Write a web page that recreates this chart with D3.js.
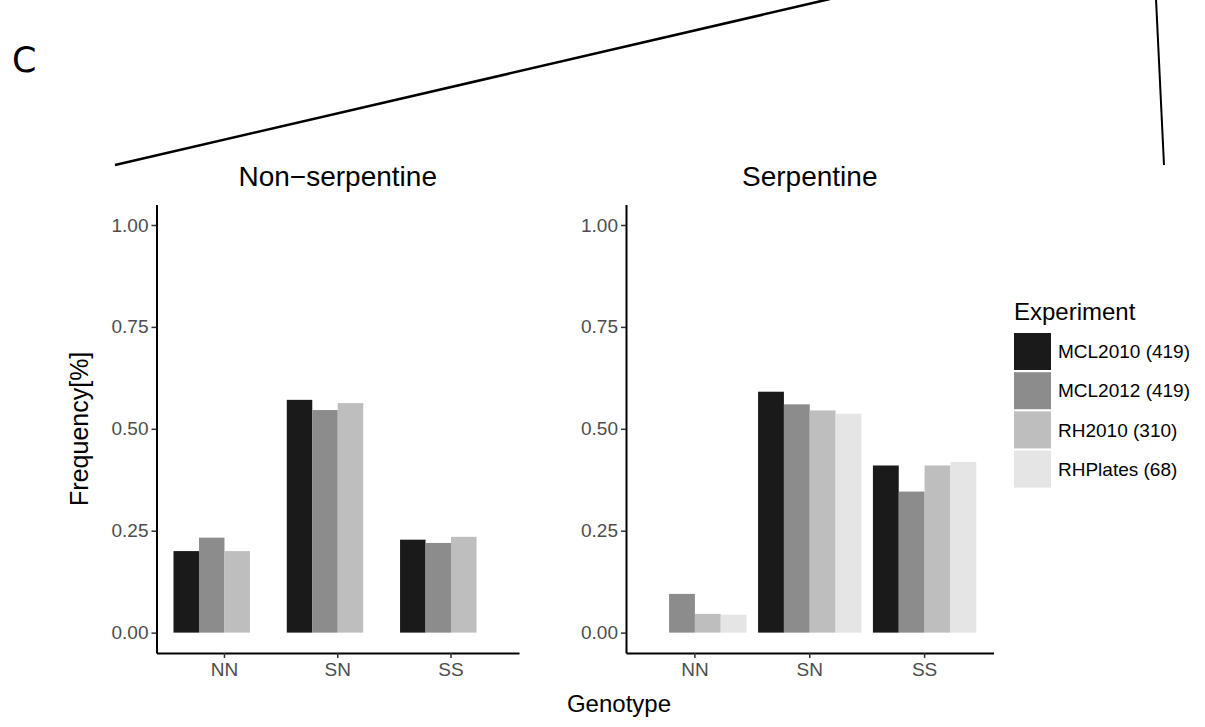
<!DOCTYPE html>
<html>
<head>
<meta charset="utf-8">
<script src="https://cdn.jsdelivr.net/npm/d3@7"></script>
<style>
  body { margin: 0; background: #fff; }
  text { font-family: "Liberation Sans", Arial, sans-serif; }
</style>
</head>
<body>
<div id="chart"></div>
<script>
// data
var genotypes = ["NN", "SN", "SS"];
var experiments = ["MCL2010 (419)", "MCL2012 (419)", "RH2010 (310)", "RHPlates (68)"];
var panels = ["Non\u2212serpentine", "Serpentine"];
var fills = ["#1a1a1a", "#8c8c8c", "#bebebe", "#e5e5e5"];
var yTicks = [0, 0.25, 0.5, 0.75, 1];

// values per experiment, one entry per genotype (null = no bar)
var nonSerpMCL2010 = [0.200, 0.571, 0.228];
var nonSerpMCL2012 = [0.233, 0.546, 0.220];
var nonSerpRH2010  = [0.200, 0.563, 0.235];
var nonSerpRHPlates = [null, null, null];

var serpMCL2010 = [null, 0.591, 0.410];
var serpMCL2012 = [0.095, 0.560, 0.346];
var serpRH2010  = [0.046, 0.545, 0.410];
var serpRHPlates = [0.044, 0.537, 0.419];

var panelData = [
    [nonSerpMCL2010, nonSerpMCL2012, nonSerpRH2010, nonSerpRHPlates],
    [serpMCL2010, serpMCL2012, serpRH2010, serpRHPlates]
];

var W = 1205, H = 727;
var panelX = [[156.5, 519], [626, 993.5]];
var yTop = 204.6, yBottom = 653;

var svg = d3.select("#chart").append("svg")
    .attr("width", W)
    .attr("height", H);

// panel label and the zoom lines at the top
svg.append("text")
    .attr("x", 12)
    .attr("y", 72)
    .style("font-family", "DejaVu Sans, sans-serif")
    .style("font-size", "35px")
    .text("C");

svg.append("line")
    .attr("x1", 115).attr("y1", 165)
    .attr("x2", 830).attr("y2", -1)
    .style("stroke", "#000")
    .style("stroke-width", 2.6);
svg.append("line")
    .attr("x1", 1164).attr("y1", 165)
    .attr("x2", 1156).attr("y2", -1)
    .style("stroke", "#000")
    .style("stroke-width", 2);

var y = d3.scaleLinear().domain([-0.05, 1.05]).range([yBottom, yTop]);

panels.forEach(function(title, p) {
    var g = svg.append("g");

    var x = d3.scaleBand()
        .domain(genotypes)
        .range(panelX[p])
        .paddingInner(0.1)
        .paddingOuter(0.15);

    var xInner = d3.scaleBand()
        .domain(experiments)
        .range([0, x.bandwidth()]);

    // bars
    panelData[p].forEach(function(vals, e) {
        g.selectAll(null)
            .data(vals.map(function(v, i) { return {g: genotypes[i], v: v}; })
                .filter(function(d) { return d.v != null; }))
            .enter().append("rect")
            .attr("x", function(d) { return x(d.g) + xInner(experiments[e]); })
            .attr("width", xInner.bandwidth())
            .attr("y", function(d) { return y(d.v); })
            .attr("height", function(d) { return y(0) - y(d.v); })
            .style("fill", fills[e]);
    });

    // axes
    var ax = g.append("g")
        .attr("transform", "translate(0," + yBottom + ")")
        .call(d3.axisBottom(x).tickSize(5).tickPadding(4).tickSizeOuter(0));
    var ay = g.append("g")
        .attr("transform", "translate(" + panelX[p][0] + ",0)")
        .call(d3.axisLeft(y).tickValues(yTicks).tickFormat(d3.format(".2f"))
            .tickSize(5).tickPadding(3).tickSizeOuter(0));

    [ax, ay].forEach(function(a) {
        a.select(".domain").style("stroke", "#000").style("stroke-width", 2);
        a.selectAll(".tick line").style("stroke", "#333").style("stroke-width", 1.5);
        a.selectAll(".tick text")
            .style("fill", "#4d4d4d")
            .style("font-size", "19px")
            .style("font-family", "Liberation Sans, Arial, sans-serif");
    });
    ax.selectAll(".tick text").attr("dy", "0.75em");

    // facet title
    g.append("text")
        .attr("x", (panelX[p][0] + panelX[p][1]) / 2)
        .attr("y", 186)
        .attr("text-anchor", "middle")
        .style("font-size", "28px")
        .text(title);
});

// axis titles
svg.append("text")
    .attr("x", 619)
    .attr("y", 712)
    .attr("text-anchor", "middle")
    .style("font-size", "24px")
    .text("Genotype");

svg.append("text")
    .attr("transform", "translate(88," + (yTop + yBottom) / 2 + ") rotate(-90)")
    .attr("text-anchor", "middle")
    .style("font-size", "25px")
    .text("Frequency[%]");

// legend
var legend = svg.append("g").attr("transform", "translate(1014,0)");
legend.append("text")
    .attr("x", 0)
    .attr("y", 320)
    .style("font-size", "24px")
    .text("Experiment");

var key = legend.selectAll(".key")
    .data(experiments)
    .enter().append("g")
    .attr("class", "key")
    .attr("transform", function(d, i) { return "translate(0," + (333 + i * 39.2) + ")"; });
key.append("rect")
    .attr("width", 37)
    .attr("height", 37)
    .style("fill", function(d, i) { return fills[i]; });
key.append("text")
    .attr("x", 44)
    .attr("y", 18.5)
    .attr("dy", "0.35em")
    .style("font-size", "19px")
    .text(function(d) { return d; });
</script>
</body>
</html>
